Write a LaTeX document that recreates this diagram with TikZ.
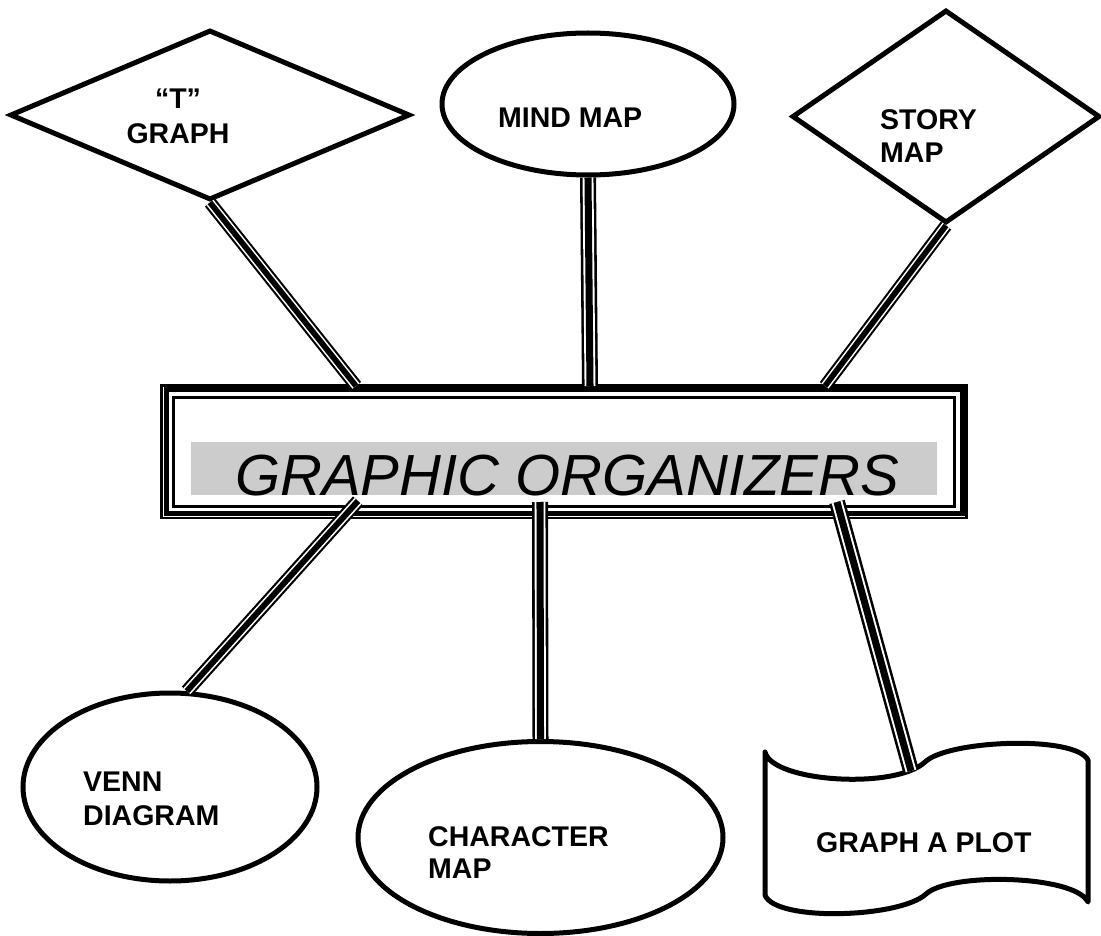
\documentclass[tikz,border=0pt]{standalone}
\usepackage{fontspec}
\setmainfont{Liberation Sans}
\usetikzlibrary{shapes.geometric,calc}
\definecolor{boxgray}{RGB}{204,204,204}
\begin{document}
\begin{tikzpicture}[x=1pt,y=-1pt,
  shapeline/.style={draw=black, line width=5pt, fill=white, inner sep=0pt},
  lbl/.style={font=\fontsize{28.5}{33.5}\selectfont\bfseries, inner sep=0pt, align=left},
  conn/.style={line width=#1, line cap=butt,
    postaction={draw, white, line width=0.68*#1},
    postaction={draw, black, line width=0.44*#1}}
]
\useasboundingbox (0,0) rectangle (1101,936);
\fill[white] (0,0) rectangle (1101,936);

% shapes
\node[shapeline, diamond, minimum width=400pt, minimum height=170pt] (tg) at (210,115) {};
\node[shapeline, ellipse, minimum width=292pt, minimum height=142pt] (mind) at (588,104) {};
\node[shapeline, diamond, minimum width=308pt, minimum height=213pt] (story) at (946,116.5) {};
\node[shapeline, ellipse, minimum width=294pt, minimum height=188pt] (venn) at (170,787) {};
\node[shapeline, ellipse, minimum width=365pt, minimum height=192pt] (char) at (540.5,837.5) {};
\draw[line width=5pt, fill=white, line join=round]
  (765,752) .. controls (772,782) and (895,790) .. (925,762)
            .. controls (948,740) and (1075,735) .. (1088,760)
  -- (1088,902)
            .. controls (1075,875) and (950,872) .. (926,894)
            .. controls (900,918) and (775,922) .. (765,895) -- cycle;
\coordinate (plottop) at (911,771);

% central box
\node[draw, line width=2.5pt, minimum width=805pt, minimum height=132.5pt, inner sep=0pt] (box) at (564.2,451.75) {};
\draw[line width=5pt] ($(box.north west)+(5.8,5.5)$) rectangle ($(box.south east)+(-5.8,-6.2)$);
\draw[line width=3.2pt] ($(box.north west)+(12.8,13.3)$) rectangle ($(box.south east)+(-13.5,-12.8)$);
\fill[boxgray] (190.7,441.7) rectangle (936.7,495);
\node[font=\fontsize{58}{60}\selectfont\itshape, anchor=base, inner sep=0pt] (title) at (567,495) {GRAPHIC ORGANIZERS};

% labels (base anchor = last line)
\node[lbl, align=center, anchor=base] (tgl) at (178,144) {“T”\\[1.5pt]GRAPH};
\node[lbl, anchor=base west] (mindl) at (498,128) {MIND MAP};
\node[lbl, anchor=base west] (storyl) at (880,163) {STORY\\MAP};
\node[lbl, anchor=base west] (vennl) at (83,825) {VENN\\DIAGRAM};
\node[lbl, anchor=base west] (charl) at (428,878) {CHARACTER\\[-2pt]MAP};
\node[lbl, anchor=base west] (plotl) at (816,852) {GRAPH A PLOT};

% connectors
\coordinate (bt1) at (356,386);
\coordinate (bt2) at (590,386);
\coordinate (bt3) at (825,386);
\coordinate (bb1) at (358,501);
\coordinate (bb2) at (540,502);
\coordinate (bb3) at (837,502);
\draw[conn=13pt] (tg.south) -- (bt1);
\draw[conn=16pt] (mind.south) -- (bt2);
\draw[conn=13pt] (story.south) -- (bt3);
\draw[conn=13.5pt] (bb1) -- (venn.80);
\draw[conn=16pt] (bb2) -- (char.north);
\draw[conn=16pt] (bb3) -- (plottop);
\end{tikzpicture}
\end{document}
